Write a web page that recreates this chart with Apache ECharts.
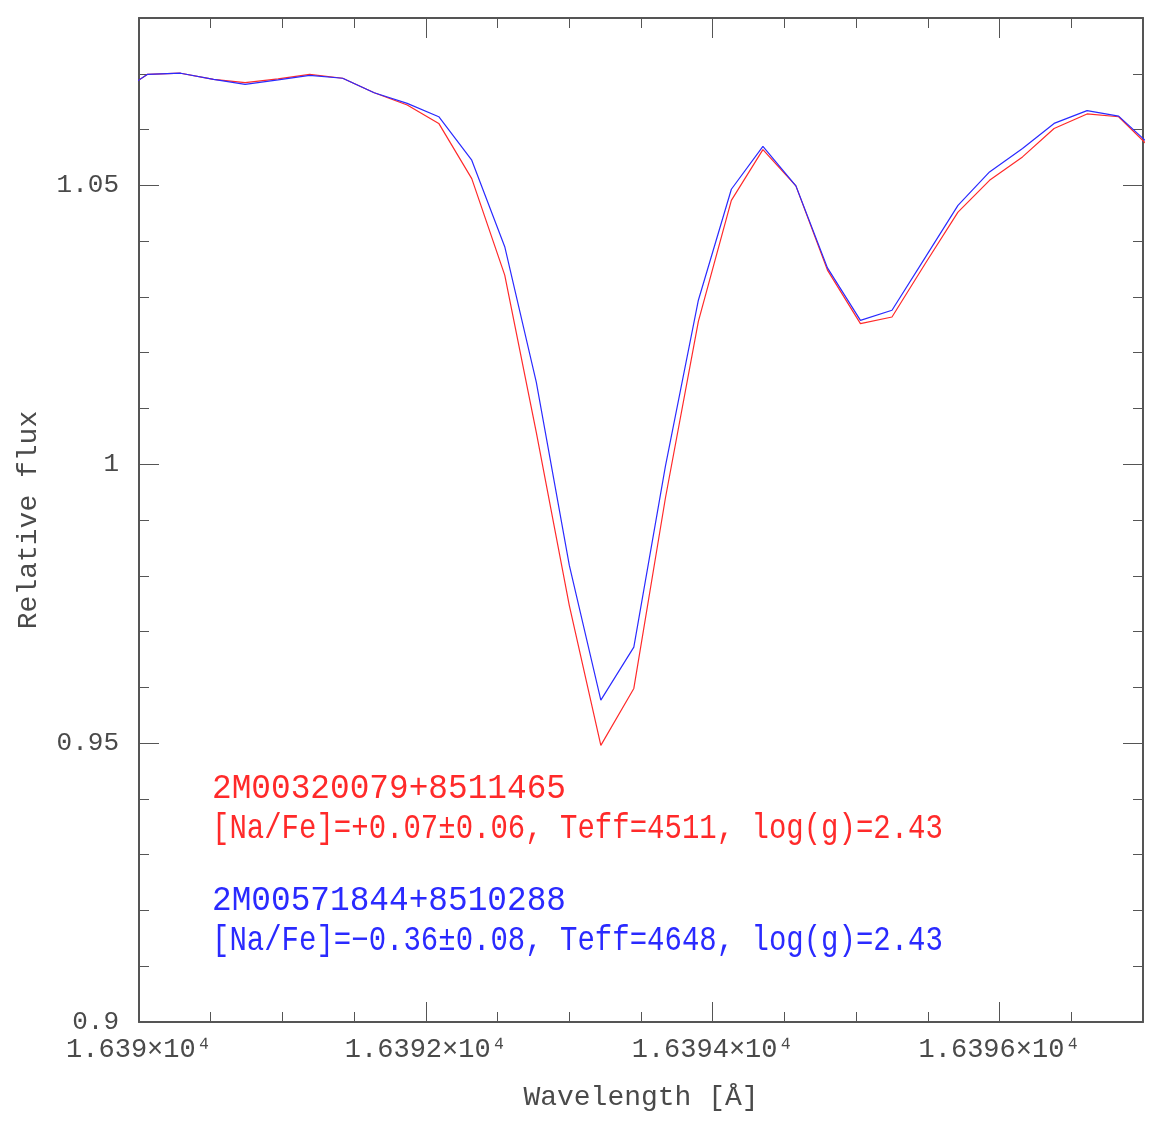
<!DOCTYPE html>
<html>
<head>
<meta charset="utf-8">
<script src="https://cdn.jsdelivr.net/npm/echarts@6/dist/echarts.min.js"></script>
<style>
  html, body { margin: 0; padding: 0; background: #fff; }
  #chart { width: 1157px; height: 1128px; }
</style>
</head>
<body>
<div id="chart"></div>
<script>
// wavelength grid (Angstrom)
const wavelength = [16389.84, 16390.06, 16390.29, 16390.52, 16390.74, 16390.97, 16391.19, 16391.42,
  16391.64, 16391.87, 16392.09, 16392.32, 16392.55, 16392.77, 16393.00, 16393.22, 16393.45,
  16393.67, 16393.90, 16394.13, 16394.35, 16394.58, 16394.80, 16395.03, 16395.25, 16395.48,
  16395.71, 16395.93, 16396.16, 16396.38, 16396.61, 16396.83, 16397.06];

// 2M00320079+8511465
const fluxRed = [1.0662, 1.0699, 1.0701, 1.0690, 1.0684, 1.0691, 1.0699, 1.0692, 1.0666,
  1.0644, 1.0611, 1.0512, 1.0339, 1.0057, 0.9747, 0.9496, 0.9598, 0.9939, 1.0256, 1.0473,
  1.0564, 1.0499, 1.0348, 1.0252, 1.0264, 1.0359, 1.0452, 1.0509, 1.0551, 1.0602, 1.0628,
  1.0623, 1.0565];

// 2M00571844+8510288
const fluxBlue = [1.0662, 1.0699, 1.0701, 1.0690, 1.0681, 1.0689, 1.0697, 1.0692, 1.0666,
  1.0647, 1.0623, 1.0545, 1.0390, 1.0147, 0.9819, 0.9577, 0.9672, 0.9996, 1.0294, 1.0493,
  1.0570, 1.0499, 1.0352, 1.0258, 1.0276, 1.0370, 1.0464, 1.0524, 1.0566, 1.0611, 1.0634,
  1.0624, 1.0570];

const xTicks = [16390, 16392, 16394, 16396];
const yTicks = [0.9, 0.95, 1, 1.05];

const starRed = ['2M00320079+8511465', '[Na/Fe]=+0.07±0.06, Teff=4511, log(g)=2.43'];
const starBlue = ['2M00571844+8510288', '[Na/Fe]=−0.36±0.08, Teff=4648, log(g)=2.43'];

const FONT = 'Liberation Mono';
const AXIS_COLOR = '#555';
const TEXT_COLOR = '#4a4a4a';
const RED = '#ff2a2a';
const BLUE = '#2a2aff';

let chart = echarts.init(document.getElementById('chart'));

function pairs(xs, ys) {
  return xs.map((x, i) => [x, ys[i]]);
}

function xLabel(v) {
  let m = parseFloat((v / 1e4).toPrecision(6));
  return m + '×10⁴';
}

// one axis for long (major) ticks, one for short (minor) ticks, on every side
function xAx(pos, step, len, labels) {
  return {
    type: 'value', position: pos, min: 16390, max: 16397, interval: step,
    axisLine: { show: labels !== null, lineStyle: { color: AXIS_COLOR, width: 2 } },
    axisTick: { show: true, inside: true, length: len, lineStyle: { color: AXIS_COLOR, width: 1 } },
    axisLabel: labels ? labels : { show: false },
    splitLine: { show: false }
  };
}
function yAx(pos, step, len, labels) {
  return {
    type: 'value', position: pos, min: 0.9, max: 1.08, interval: step,
    axisLine: { show: labels !== null, lineStyle: { color: AXIS_COLOR, width: 2 } },
    axisTick: { show: true, inside: true, length: len, lineStyle: { color: AXIS_COLOR, width: 1 } },
    axisLabel: labels ? labels : { show: false },
    splitLine: { show: false }
  };
}

const xMain = xAx('bottom', 2, 20, {
  show: true, margin: 14, fontFamily: FONT, fontSize: 27, color: TEXT_COLOR,
  showMaxLabel: false,
  formatter: v => xTicks.includes(v) ? xLabel(v) : ''
});
xMain.name = 'Wavelength [Å]';
xMain.nameLocation = 'middle';
xMain.nameGap = 62;
xMain.nameTextStyle = { fontFamily: FONT, fontSize: 28, color: TEXT_COLOR };

const yMain = yAx('left', 0.05, 20, {
  show: true, margin: 20, fontFamily: FONT, fontSize: 26, color: TEXT_COLOR,
  showMaxLabel: false,
  formatter: v => yTicks.some(t => Math.abs(t - v) < 1e-9) ? String(parseFloat(v.toFixed(2))) : ''
});
yMain.name = 'Relative flux';
yMain.nameLocation = 'middle';
yMain.nameGap = 96;
yMain.nameTextStyle = { fontFamily: FONT, fontSize: 28, color: TEXT_COLOR };

// annotation text, stretched a little to match the taller plotting font
function note(text, y, color, sx) {
  return {
    type: 'text', x: 212, y: y, scaleX: sx, scaleY: 1.18, originX: 0, originY: 0,
    style: { text: text, fill: color, font: '29px "Liberation Mono"', align: 'left', verticalAlign: 'middle' }
  };
}

const option = {
  animation: false,
  backgroundColor: '#fff',
  grid: { left: 139, right: 14, top: 18, bottom: 106 },
  xAxis: [
    xMain,
    xAx('bottom', 0.5, 10, null),
    xAx('top', 2, 20, false),
    xAx('top', 0.5, 10, null)
  ],
  yAxis: [
    yMain,
    yAx('left', 0.01, 10, null),
    yAx('right', 0.05, 20, false),
    yAx('right', 0.01, 10, null)
  ],
  series: [
    {
      name: starRed[0], type: 'line', xAxisIndex: 0, yAxisIndex: 0,
      data: pairs(wavelength, fluxRed), showSymbol: false,
      lineStyle: { color: RED, width: 1.2 }
    },
    {
      name: starBlue[0], type: 'line', xAxisIndex: 0, yAxisIndex: 0,
      data: pairs(wavelength, fluxBlue), showSymbol: false,
      lineStyle: { color: BLUE, width: 1.2 }
    }
  ],
  graphic: [
    note(starRed[0], 789, RED, 1.13),
    note(starRed[1], 829, RED, 1.0),
    note(starBlue[0], 901, BLUE, 1.13),
    note(starBlue[1], 941, BLUE, 1.0)
  ]
};

chart.setOption(option);
</script>
</body>
</html>
